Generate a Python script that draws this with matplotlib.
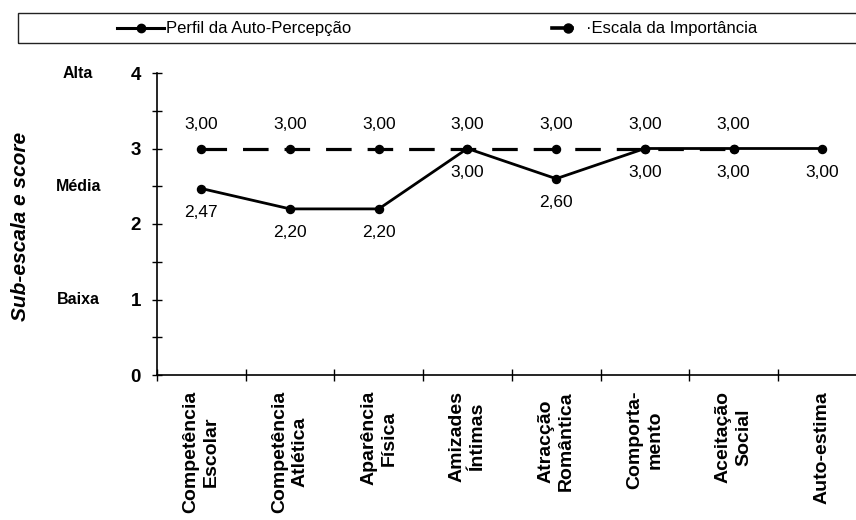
import matplotlib
matplotlib.use("Agg")
import matplotlib.pyplot as plt
from matplotlib.lines import Line2D
from matplotlib.patches import Rectangle
from matplotlib.ticker import MultipleLocator, FixedLocator

plt.rcParams['font.family'] = ['Liberation Sans', 'DejaVu Sans']

# sub-escalas (Harter) and scores
categorias = ["Competência\nEscolar", "Competência\nAtlética", "Aparência\nFísica",
              "Amizades\nÍntimas", "Atracção\nRomântica", "Comporta-\nmento",
              "Aceitação\nSocial", "Auto-estima"]
perfil = [2.47, 2.20, 2.20, 3.00, 2.60, 3.00, 3.00, 3.00]
importancia = [3.00, 3.00, 3.00, 3.00, 3.00, 3.00, 3.00]
niveis = [(4, "Alta"), (2.5, "Média"), (1, "Baixa")]

W, H = 856, 520
fig = plt.figure(figsize=(W / 100, H / 100), dpi=100)
fig.patch.set_facecolor("white")

ax_w = 88.7 * len(categorias)
ax = fig.add_axes([157 / W, 1 - 375 / H, ax_w / W, (375 - 73) / H])
ax.set_xlim(0, len(categorias))
ax.set_ylim(0, 4)

x_perf = [i + 0.5 for i in range(len(perfil))]
x_imp = [i + 0.5 for i in range(len(importancia))]

ax.plot(x_imp, importancia, color="black", lw=2.3, dashes=(8, 5),
        marker="o", ms=5.8, clip_on=False, zorder=3)
ax.plot(x_perf, perfil, color="black", lw=2.0,
        marker="o", ms=5.8, clip_on=False, zorder=4)

def fmt(v):
    return f"{v:.2f}".replace(".", ",")

for x, v in zip(x_imp, importancia):
    ax.annotate(fmt(v), (x, v), xytext=(0, 17), textcoords="offset points",
                ha="center", va="center", fontsize=12.5)
for x, v in zip(x_perf, perfil):
    ax.annotate(fmt(v), (x, v), xytext=(0, -17), textcoords="offset points",
                ha="center", va="center", fontsize=12.5)

# axes styling
for s in ("top", "right"):
    ax.spines[s].set_visible(False)
for s in ("left", "bottom"):
    ax.spines[s].set_linewidth(1.2)

ax.yaxis.set_major_locator(MultipleLocator(1))
ax.yaxis.set_minor_locator(MultipleLocator(0.5))
ax.tick_params(axis="y", which="both", direction="inout", length=7, width=1)
ax.tick_params(axis="y", which="major", labelsize=13.5, pad=8)
for lbl in ax.get_yticklabels():
    lbl.set_fontweight("bold")

ax.xaxis.set_major_locator(FixedLocator(range(len(categorias) + 1)))
ax.xaxis.set_minor_locator(FixedLocator(x_perf))
ax.tick_params(axis="x", which="major", direction="inout", length=8, width=1,
               labelbottom=False)
ax.tick_params(axis="x", which="minor", length=0, pad=11.5)
ax.set_xticks(x_perf, categorias, minor=True, rotation=90, fontsize=14,
              fontweight="bold", va="top", ha="center", multialignment="center",
              linespacing=1.25)

ytr = ax.get_yaxis_transform()
for y, txt in niveis:
    ax.text(-0.111, y, txt, transform=ytr, ha="center", va="center",
            fontsize=11.5, fontweight="bold")

fig.text(21 / W, 1 - 226 / H, "Sub-escala e score", rotation=90,
         ha="center", va="center", fontsize=15, fontweight="bold",
         fontstyle="italic")

# legend box across the top
fig.patches.append(Rectangle((18 / W, 1 - 43 / H), (880 - 18) / W, 30 / H,
                             transform=fig.transFigure, fill=False,
                             edgecolor="#222222", lw=1))
ly = 1 - 28 / H
fig.add_artist(Line2D([117 / W, 164 / W], [ly, ly], color="black", lw=2.2))
fig.add_artist(Line2D([141 / W], [ly], color="black", marker="o", ms=6, lw=0))
fig.text(166 / W, ly, "Perfil da Auto-Percepção", ha="left", va="center",
         fontsize=12)
fig.add_artist(Line2D([552 / W, 572 / W], [ly, ly], color="black", lw=2.6))
fig.add_artist(Line2D([568 / W], [ly], color="black", marker="o", ms=6.5, lw=0))
fig.text(586 / W, ly, "·Escala da Importância", ha="left", va="center",
         fontsize=12)

fig.savefig("out.png", dpi=100)
